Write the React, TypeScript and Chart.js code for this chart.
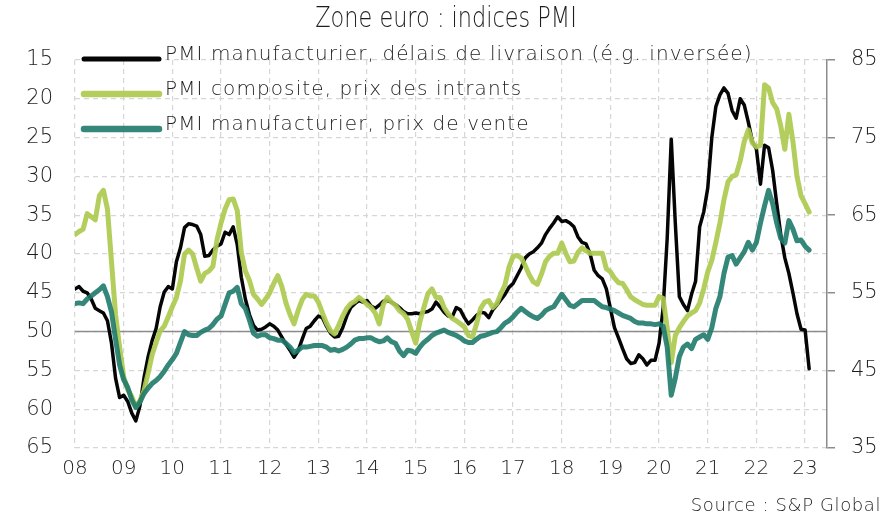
import React, { useEffect, useRef } from 'react';
import { Chart, registerables } from 'chart.js';

Chart.register(...registerables);

// Monthly data, Jan 2008 -> Feb 2023
const yearLabels = ['08', '09', '10', '11', '12', '13', '14', '15', '16', '17', '18', '19', '20', '21', '22', '23'];

// PMI manufacturier, délais de livraison (left axis, inverted)
const delaisLivraison = [
  44.5, 44.2, 44.8, 45, 45.8, 47, 47.3, 47.6, 48.6, 51.5, 56, 58.5,
  58.2, 59, 60.5, 61.5, 59.6, 56, 53.3, 51.2, 49.6, 46.8, 44.9, 44.2,
  44.5, 41, 39.2, 36.6, 36.1, 36.2, 36.4, 37.5, 40.3, 40.2, 39.5, 39,
  38.7, 37.2, 37.5, 36.5, 38.8, 43, 45.8, 47.8, 49.2, 49.8, 49.7, 49.4,
  49, 49.3, 49.8, 50.7, 51.6, 52.4, 53.3, 52.5, 51, 49.6, 49.3, 48.6,
  48, 48.2, 49.3, 50.2, 50.7, 50.6, 49.5, 48, 46.9, 46.4, 46, 46.2,
  46, 46.7, 47, 46.6, 46.1, 46, 46.2, 46.5, 46.9, 47.4, 47.7, 47.7,
  47.6, 47.7, 47.5, 47.4, 47.1, 46.2, 46.8, 47.5, 48, 48.1, 46.9, 47.2,
  48.2, 49, 48.5, 47.9, 47.5, 47.6, 48.2, 47.2, 46.6, 45.9, 45.2, 44.3,
  43.8, 42.8, 41.8, 40.5, 40, 39.7, 39.2, 38.6, 37.5, 36.7, 36, 35.2,
  35.8, 35.7, 36, 36.5, 37.8, 38.5, 38.7, 40, 42.1, 42.8, 43.2, 44.5,
  47, 49.5, 50.8, 52.2, 53.5, 54.1, 54, 53, 53.5, 54.3, 53.7, 53.7,
  51.5, 47, 38, 25.2, 36, 45.5, 46.5, 47.3, 45.2, 43.5, 36.5, 34.6,
  31.5, 25, 21, 19.5, 18.6, 19.3, 21.5, 22.5, 20, 20.8, 23, 25.5,
  26.5, 31, 26, 26.3, 29.2, 33.5, 37.5, 40.5, 42.5, 45, 47.7, 49.7,
  49.8, 54.8,
];

// PMI composite, prix des intrants (right axis)
const prixIntrants = [
  62.5, 62.9, 63.2, 65.2, 64.8, 64.4, 67.5, 68.2, 65.8, 59, 52.2, 48,
  44.2, 42.5, 41.6, 40.3, 41.1, 42.4, 44.6, 47, 48.6, 50.1, 50.7, 51.9,
  53.2, 54.4, 56.5, 60, 60.5, 60, 58.2, 56.5, 57.5, 57.8, 58.4, 61.8,
  64, 65.8, 67, 67.1, 65.6, 60.2, 57.8, 56.6, 54.8, 54.2, 53.5, 54.2,
  55, 56.2, 57.2, 55.8, 53.7, 52.2, 51, 52.7, 54.1, 54.8, 54.6, 54.6,
  53.8, 52.4, 51.1, 50.1, 49.7, 50.8, 52, 53, 53.6, 53.9, 54.4, 54,
  53.5, 53.1, 52.4, 51, 53.5, 54.4, 53.8, 53.4, 52.7, 52.3, 51.6, 50,
  48.5, 51.2, 53.1, 54.9, 55.5, 54.4, 54.4, 53.1, 52.3, 51.7, 51.4, 51,
  50.6, 49.5, 49.3, 51, 53, 53.8, 54, 53.1, 53.6, 54.9, 56, 58.3,
  59.7, 59.8, 59.5, 58.5, 57.3, 56.4, 56.1, 57.4, 59, 59.7, 60.1, 60.1,
  61.4, 60.1, 59, 59.1, 60.2, 60.8, 60.4, 60.1, 60.1, 60.1, 60.1, 58.1,
  57.7, 56.9, 56.3, 56.2, 55.4, 54.5, 54.1, 53.8, 53.5, 53.4, 53.4, 53.4,
  54.5, 54.3, 50.5, 46, 49.5, 50.5, 51.3, 52, 52.4, 52.7, 53.7, 55.5,
  57.7, 59.2, 61.5, 64, 67, 69.3, 70, 70.2, 72, 74.5, 76, 74.3,
  73.8, 74, 81.8, 81.4, 79.5, 78.7, 76.5, 73.5, 78, 74.5, 70, 67.5,
  66.5, 65.4,
];

// PMI manufacturier, prix de vente (right axis)
const prixVente = [
  53.6, 53.7, 53.6, 54.2, 54.6, 55, 55.4, 55.9, 54.5, 52.5, 49, 45.7,
  43.8, 42.8, 41.2, 40.2, 40.9, 42, 42.7, 43.3, 43.7, 44.2, 44.9, 45.7,
  46.4, 47.2, 48.6, 50, 49.6, 49.5, 49.5, 49.9, 50.2, 50.4, 50.9, 51.6,
  52, 53.5, 55, 55.2, 55.7, 53.6, 53, 51.5, 49.8, 49.4, 49.6, 49.6,
  49.2, 49.1, 48.9, 48.9, 48.5, 48, 47.3, 47.6, 48, 48, 48.1, 48.2,
  48.2, 48.2, 48, 47.6, 47.7, 47.5, 47.7, 48, 48.4, 48.9, 49.1, 49.1,
  49.2, 49.2, 48.9, 48.7, 48.8, 49.2, 48.7, 48.5, 47.5, 46.9, 47.6, 47.5,
  47.2, 48, 48.6, 49, 49.5, 49.8, 50, 50.2, 49.9, 49.7, 49.5, 49.2,
  48.8, 48.6, 48.6, 49, 49.4, 49.5, 49.7, 49.9, 50, 50.5, 51.1, 51.4,
  51.9, 52.5, 53, 52.6, 52.2, 51.9, 51.7, 52.1, 52.7, 53, 53.2, 54,
  54.8, 54.1, 53.4, 53.2, 53.6, 54, 54, 54, 54, 53.6, 53.2, 53.1,
  52.9, 52.7, 52.4, 52.1, 51.9, 51.7, 51.3, 51.1, 51.1, 51, 51, 50.9,
  51, 50.7, 48, 41.8, 44, 46.8, 48, 48.4, 47.8, 49, 49.3, 49.6,
  49, 50.5, 53, 54.5, 57.5, 59.6, 59.8, 58.7, 59.5, 60.3, 61.5, 60.5,
  61.5, 64, 66.2, 68.2, 66.5, 64, 62, 61.4, 64.3, 63.2, 61.7, 61.8,
  61, 60.5,
];

const seriesLabels = [
  'PMI manufacturier, délais de livraison (é.g. inversée)',
  'PMI composite, prix des intrants',
  'PMI manufacturier, prix de vente',
];
const seriesColors = ['#050505', 'rgba(172, 202, 78, 0.92)', 'rgba(30, 122, 106, 0.9)'];

const titleText = 'Zone euro : indices PMI';
const sourceText = 'Source : S&P Global';

const W = 895;
const H = 520;
const FONT = "'DejaVu Sans', 'Noto Sans', sans-serif";
const TXT = '#1e1e1e';

export default function App() {
  const ref = useRef<HTMLCanvasElement>(null);

  useEffect(() => {
    document.body.style.margin = '0';
    const canvas = ref.current;
    if (!canvas) return;
    const ctx = canvas.getContext('2d');
    if (!ctx) return;

    const toXY = (arr: number[]) => arr.map((v, i) => ({ x: i, y: v }));

    const overlay = {
      id: 'overlay',
      beforeDatasetsDraw(chart: any) {
        const c = chart.ctx;
        const area = chart.chartArea;
        const y50 = chart.scales.y.getPixelForValue(50);
        c.save();
        c.strokeStyle = '#8c8c8c';
        c.lineWidth = 1.5;
        c.beginPath();
        c.moveTo(area.left, y50);
        c.lineTo(area.right, y50);
        c.stroke();
        c.restore();
      },
      afterDraw(chart: any) {
        const c = chart.ctx;
        c.save();
        // title (condensed look)
        c.save();
        c.translate(446, 20);
        c.scale(0.8, 1);
        c.fillStyle = TXT;
        c.font = `200 28px ${FONT}`;
        c.textAlign = 'center';
        c.textBaseline = 'middle';
        c.fillText(titleText, 0, 0);
        c.restore();
        // legend
        const rowsY = [59, 94, 129];
        seriesLabels.forEach((lab, i) => {
          c.strokeStyle = seriesColors[i];
          c.lineWidth = i === 0 ? 5 : 6.5;
          c.lineCap = 'round';
          c.beginPath();
          c.moveTo(84, rowsY[i]);
          c.lineTo(159, rowsY[i]);
          c.stroke();
          c.fillStyle = TXT;
          c.font = `200 20px ${FONT}`;
          (c as any).letterSpacing = '1.1px';
          c.textAlign = 'left';
          c.textBaseline = 'middle';
          c.fillText(lab, 165, rowsY[i] - 4);
          (c as any).letterSpacing = '0px';
        });
        // source
        c.font = `200 18px ${FONT}`;
        (c as any).letterSpacing = '0.6px';
        c.textAlign = 'right';
        c.textBaseline = 'middle';
        c.fillStyle = TXT;
        c.fillText(sourceText, 881, 506);
        (c as any).letterSpacing = '0px';
        c.restore();
      },
    };

    const chart = new Chart(ctx, {
      type: 'line',
      data: {
        datasets: [
          {
            label: seriesLabels[0],
            data: toXY(delaisLivraison),
            yAxisID: 'y',
            borderColor: seriesColors[0],
            borderWidth: 3.5,
            pointRadius: 0,
            tension: 0,
            borderJoinStyle: 'round',
            borderCapStyle: 'round',
            order: 2,
          },
          {
            label: seriesLabels[1],
            data: toXY(prixIntrants),
            yAxisID: 'y2',
            borderColor: seriesColors[1],
            borderWidth: 5,
            pointRadius: 0,
            tension: 0,
            borderJoinStyle: 'round',
            borderCapStyle: 'round',
            order: 1,
          },
          {
            label: seriesLabels[2],
            data: toXY(prixVente),
            yAxisID: 'y2',
            borderColor: seriesColors[2],
            borderWidth: 5,
            pointRadius: 0,
            tension: 0,
            borderJoinStyle: 'round',
            borderCapStyle: 'round',
            order: 0,
          },
        ],
      },
      options: {
        responsive: false,
        animation: false,
        devicePixelRatio: 1,
        layout: { padding: { top: 60, left: 0, right: 0, bottom: 0 } },
        plugins: {
          legend: { display: false },
          title: { display: false },
          tooltip: { enabled: false },
        },
        scales: {
          x: {
            type: 'linear',
            min: 0,
            max: 185.4,
            afterBuildTicks: (s: any) => {
              s.ticks = yearLabels.map((_, i) => ({ value: i * 12 }));
            },
            afterFit: (s: any) => {
              s.height = 72;
            },
            ticks: {
              autoSkip: false,
              maxRotation: 0,
              padding: 9,
              color: TXT,
              font: { family: FONT, size: 20, weight: '200' },
              callback: (v: any) => yearLabels[Math.round(Number(v) / 12)] ?? '',
            },
            grid: { color: '#d6d6d6', lineWidth: 1.2, drawTicks: false },
            border: { display: false, dash: [5, 4] },
          },
          y: {
            position: 'left',
            reverse: true,
            min: 15,
            max: 65,
            afterFit: (s: any) => {
              s.width = 75;
            },
            ticks: {
              stepSize: 5,
              padding: 22,
              color: TXT,
              font: { family: FONT, size: 21, weight: '200' },
            },
            grid: { color: '#d6d6d6', lineWidth: 1.2, drawTicks: false },
            border: { display: false, dash: [5, 4] },
          },
          y2: {
            position: 'right',
            min: 35,
            max: 85,
            afterFit: (s: any) => {
              s.width = 68;
            },
            ticks: {
              stepSize: 10,
              padding: 16,
              color: TXT,
              font: { family: FONT, size: 21, weight: '200' },
            },
            grid: {
              drawOnChartArea: false,
              drawTicks: true,
              tickLength: 8,
              color: '#8c8c8c',
              lineWidth: 1.5,
            },
            border: { display: true, color: '#8c8c8c', width: 1.5 },
          },
        },
      },
      plugins: [overlay],
    } as any);

    return () => chart.destroy();
  }, []);

  return (
    <div style={{ width: W, height: H, position: 'relative', background: '#fff' }}>
      <canvas ref={ref} width={W} height={H} style={{ display: 'block', width: W, height: H }} />
    </div>
  );
}
